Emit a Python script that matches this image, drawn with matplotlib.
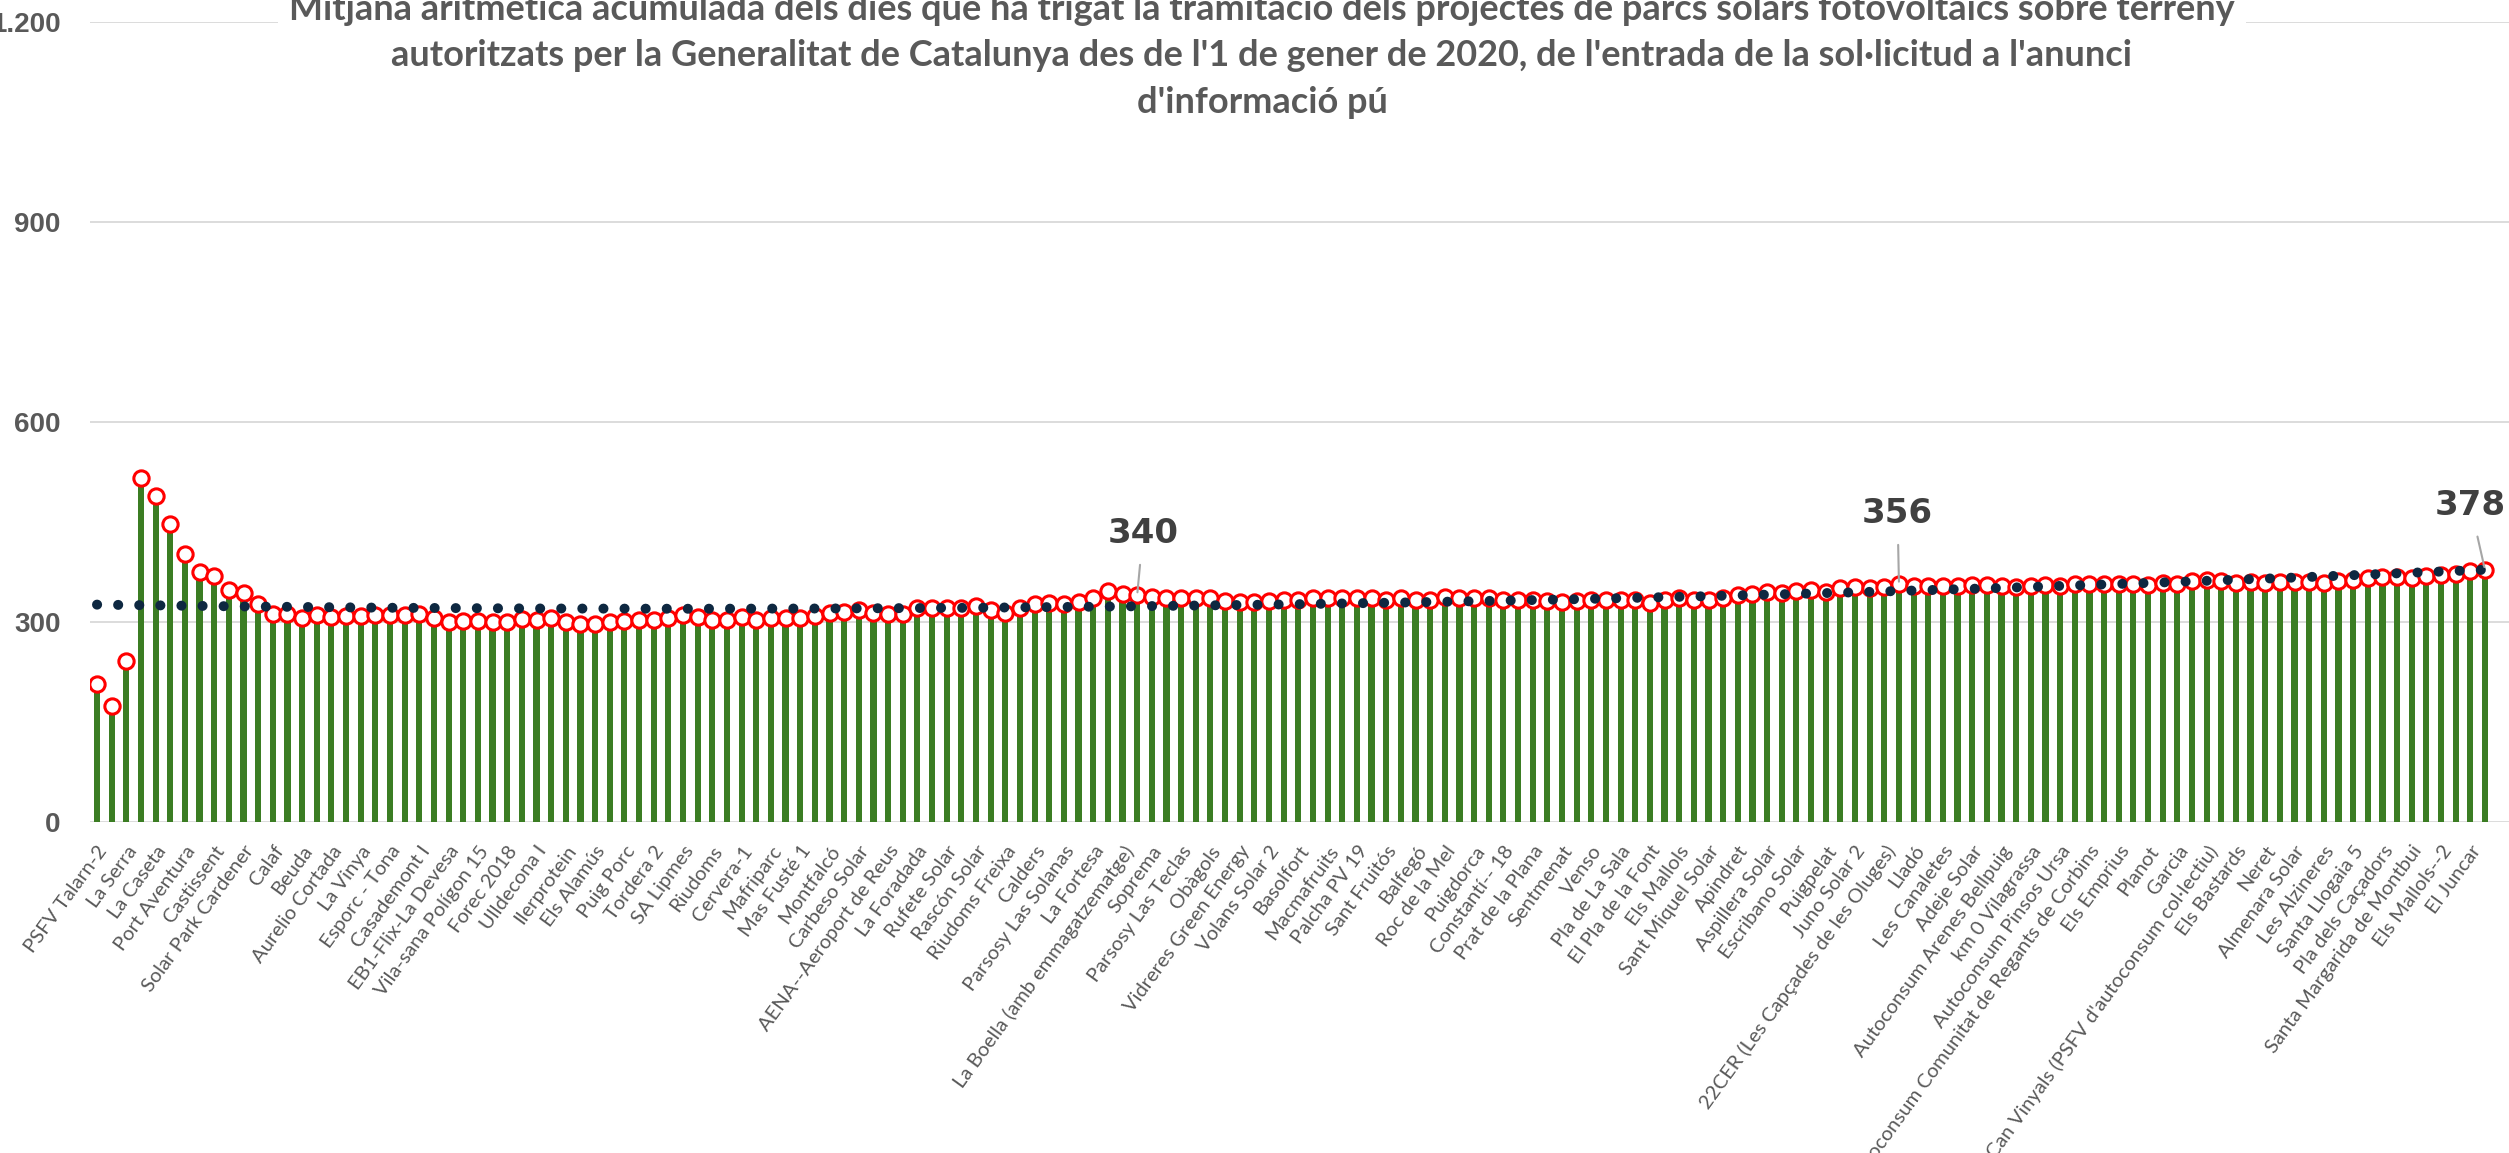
import numpy as np
import matplotlib
matplotlib.use("Agg")
import matplotlib.pyplot as plt

# noms dels projectes (una etiqueta cada dues barres)
projectes = [
    "PSFV Talarn-2", "La Serra", "La Caseta", "Port Aventura", "Castissent",
    "Solar Park Cardener", "Calaf", "Beuda", "Aurelio Cortada", "La Vinya",
    "Esporc - Tona", "Casademont I", "EB1-Flix-La Devesa", "Vila-sana Polígon 15",
    "Forec 2018", "Ulldecona I", "Ilerprotein", "Els Alamús", "Puig Porc",
    "Tordera 2", "SA Lipmes", "Riudoms", "Cervera-1", "Mafriparc", "Mas Fusté 1",
    "Montfalcó", "Carbeso Solar", "AENA--Aeroport de Reus", "La Foradada",
    "Rufete Solar", "Rascón Solar", "Riudoms Freixa", "Calders",
    "Parsosy Las Solanas", "La Fortesa", "La Boella (amb emmagatzematge)",
    "Soprema", "Parsosy Las Teclas", "Obàgols", "Vidreres Green Energy",
    "Volans Solar 2", "Basolfort", "Macmafruits", "Palcha PV 19", "Sant Fruitós",
    "Balfegó", "Roc de la Mel", "Puigdorca", "Constantí-- 18", "Prat de la Plana",
    "Sentmenat", "Venso", "Pla de La Sala", "El Pla de la Font", "Els Mallols",
    "Sant Miquel Solar", "Apindret", "Aspillera Solar", "Escribano Solar",
    "Puigpelat", "Juno Solar 2", "22CER (Les Capçades de les Oluges)", "Lladó",
    "Les Canaletes", "Adeje Solar", "Autoconsum Arenes Bellpuig",
    "km 0 Vilagrassa", "Autoconsum Pinsos Ursa",
    "Autoconsum Comunitat de Regants de Corbins", "Els Emprius", "Planot",
    "Garcia", "Can Vinyals (PSFV d'autoconsum col·lectiu)", "Els Bastards",
    "Neret", "Almenara Solar", "Les Alzineres", "Santa Llogaia 5",
    "Pla dels Caçadors", "Santa Margarida de Montbui", "Els Mallols--2",
    "El Juncar",
]

# mitjana acumulada de dies (una barra per projecte)
dies = [
    207, 174, 241, 516, 489, 446, 401, 375, 369, 347,
    343, 326, 312, 311, 306, 310, 307, 308, 308, 310,
    310, 310, 312, 305, 300, 301, 301, 299, 300, 304,
    303, 305, 299, 296, 296, 299, 301, 302, 302, 306,
    310, 307, 303, 302, 307, 303, 305, 306, 306, 308,
    313, 315, 317, 313, 312, 312, 320, 320, 320, 321,
    323, 318, 313, 320, 326, 328, 326, 330, 335, 346,
    341, 340, 337, 335, 336, 335, 335, 331, 330, 330,
    331, 333, 333, 335, 335, 335, 336, 336, 333, 335,
    332, 333, 337, 335, 336, 335, 332, 333, 332, 331,
    330, 331, 333, 332, 332, 332, 328, 332, 335, 333,
    333, 336, 340, 342, 345, 343, 346, 348, 345, 350,
    352, 350, 352, 356, 353, 353, 353, 353, 355, 355,
    353, 352, 353, 355, 353, 356, 357, 356, 356, 356,
    355, 358, 357, 361, 362, 361, 358, 360, 358, 360,
    360, 360, 358, 361, 362, 366, 367, 367, 366, 368,
    370, 372, 376, 378,
]

# línia de tendència llegida del gràfic (posició de barra, valor)
tend_x = [0, 10, 20, 30, 40, 50, 60, 70, 80, 90, 100, 110, 120, 130, 140, 150, 163]
tend_y = [325.7, 323.0, 321.0, 319.9, 319.5, 319.9, 321.0, 323.0, 325.7, 329.2,
          333.4, 338.4, 344.2, 350.8, 358.2, 366.3, 378.0]

# barres amb etiqueta de dades
destacats = [71, 123, 163]

yticks = [0, 300, 600, 900, 1200]

titol = ("Mitjana aritmètica acumulada dels dies que ha trigat la tramitació dels projectes de parcs solars fotovoltaics sobre terreny\n"
         "autoritzats per la Generalitat de Catalunya des de l'1 de gener de 2020, de l'entrada de la sol·licitud a l'anunci\n"
         "d'informació pú")

GRIS = "#595959"

x = np.arange(len(dies))

fig = plt.figure(figsize=(25.09, 11.53), dpi=100)
ax = fig.add_axes([0.03575, 0.2873, 0.96425, 0.6938])

ax.bar(x, dies, width=0.42, color="#3B7D23", zorder=2)
ax.plot(x, dies, ls="none", marker="o", ms=11, mfc="white",
        mec="#FF0000", mew=2.2, zorder=3)
ax.plot(tend_x, tend_y, color="#0E2841", lw=7.2, ls=(0, (0.01, 2.1)),
        dash_capstyle="round", zorder=4)

ax.set_xlim(-0.5, 164.64)
ax.set_ylim(0, 1200)
ax.yaxis.grid(True, color="#D9D9D9", lw=1.3)
ax.set_axisbelow(True)
for s in ax.spines.values():
    s.set_visible(False)

ax.set_yticks(yticks)
ax.set_yticklabels([f"{v:,}".replace(",", ".") for v in yticks],
                   fontsize=20, fontweight="bold", family="Liberation Sans",
                   color=GRIS)
ax.tick_params(axis="y", length=0, pad=21)

ax.set_xticks(x[::2])
ax.set_xticklabels(projectes, fontsize=14.5, family="Lato", color=GRIS,
                   rotation=54, ha="right", va="top", rotation_mode="anchor")
ax.tick_params(axis="x", length=0, pad=15)

text_pos = {71: (71.4, 433), 123: (122.9, 463), 163: (162.0, 475)}
for i in destacats:
    ax.annotate(f"{dies[i]:.0f}", xy=(i, dies[i]), xytext=text_pos[i],
                ha="center", va="center", fontsize=24.5, fontweight="bold",
                color="#404040", zorder=5, annotation_clip=False,
                arrowprops=dict(arrowstyle="-", color="#A6A6A6", lw=1.5,
                                shrinkA=9, shrinkB=2))

fig.text(1262 / 2509, 1 - 56 / 1153, titol, ha="center", va="center",
         fontsize=26, fontweight="bold", color=GRIS, family="Lato",
         linespacing=1.5, zorder=10,
         bbox=dict(fc="white", ec="none", pad=8))

fig.savefig("out.png", dpi=100)
